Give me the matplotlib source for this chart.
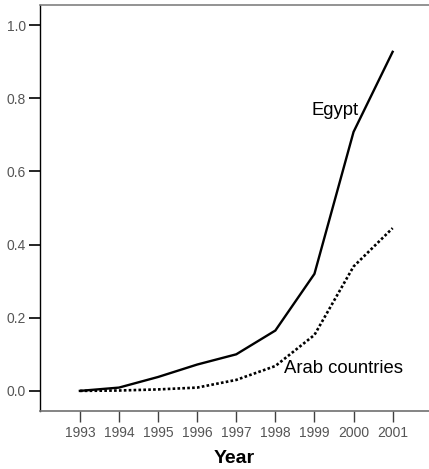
import matplotlib
matplotlib.use("Agg")
import matplotlib.pyplot as plt

years = [1993, 1994, 1995, 1996, 1997, 1998, 1999, 2000, 2001]
egypt = [0.000, 0.009, 0.038, 0.072, 0.100, 0.165, 0.320, 0.708, 0.927]
arab_countries = [0.000, 0.001, 0.004, 0.009, 0.030, 0.068, 0.153, 0.340, 0.445]
y_ticks = [0.0, 0.2, 0.4, 0.6, 0.8, 1.0]

plt.rcParams["font.family"] = ["Liberation Sans", "DejaVu Sans"]

fig = plt.figure(figsize=(4.29, 4.69), dpi=100)
W, H = 429, 469
ax = fig.add_axes([40 / W, 58 / H, 389 / W, 406 / H])

ax.plot(years, egypt, color="black", lw=1.7, solid_joinstyle="miter")
ax.plot(years, arab_countries, color="black", lw=1.9,
        linestyle=(0, (1.0, 0.85)), dash_capstyle="butt")

ax.set_xlim(1991.98, 2001.93)
ax.set_ylim(-0.055, 1.055)
ax.set_xticks(years)
ax.set_xticklabels([str(y) for y in years])
ax.set_yticks(y_ticks)
ax.set_yticklabels([f"{v:.1f}" for v in y_ticks])

ax.spines["right"].set_visible(False)
ax.spines["top"].set_color("#808080")
ax.spines["top"].set_linewidth(1.2)
ax.spines["bottom"].set_color("#707070")
ax.spines["bottom"].set_linewidth(1.2)
ax.spines["left"].set_color("black")
ax.spines["left"].set_linewidth(1.0)

ax.tick_params(axis="x", direction="out", length=8, width=1.0,
               color="#404040", labelcolor="#555555", labelsize=10, pad=3)
ax.tick_params(axis="y", direction="out", length=8, width=1.2,
               color="black", labelcolor="#555555", labelsize=10, pad=2)

ax.set_xlabel("Year", fontsize=14, fontweight="bold", labelpad=7)

ax.text(1998.93, 0.754, "Egypt", fontsize=13.3, color="black",
        ha="left", va="baseline")
ax.text(1998.22, 0.048, "Arab countries", fontsize=13.3, color="black",
        ha="left", va="baseline")

fig.savefig("out.png", dpi=100)
